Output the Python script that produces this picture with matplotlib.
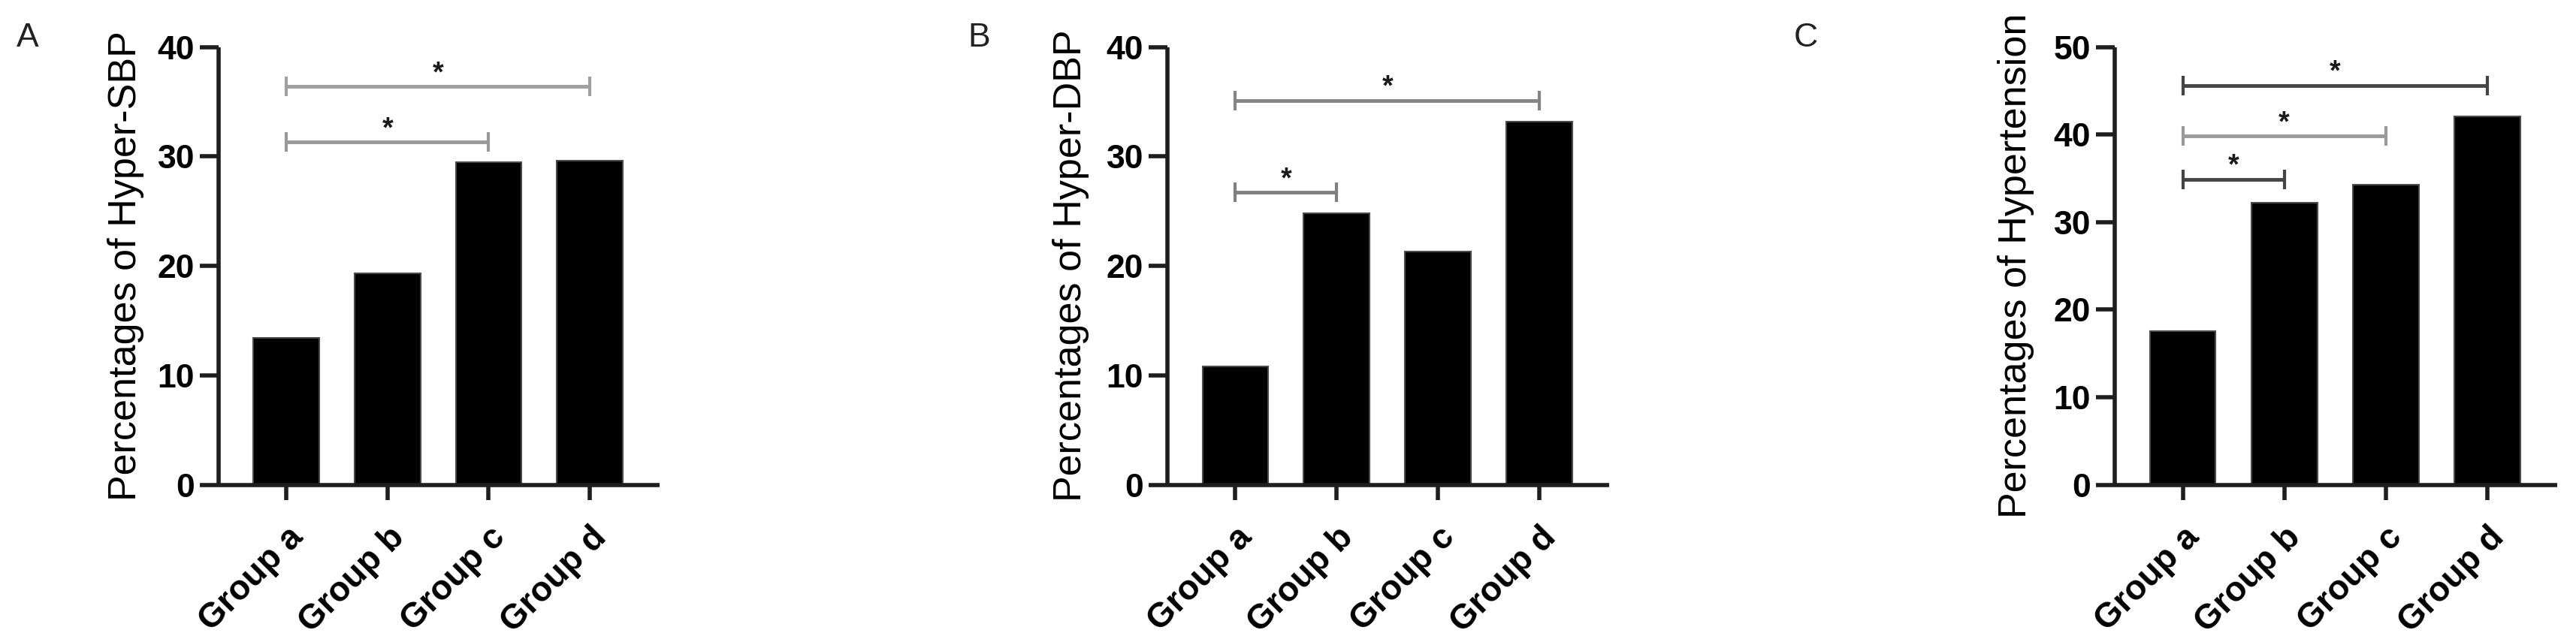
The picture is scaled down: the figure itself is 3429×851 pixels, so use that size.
import matplotlib
matplotlib.use("Agg")
import matplotlib.pyplot as plt
import numpy as np

plt.rcParams['font.family'] = ['Liberation Sans', 'DejaVu Sans']

# ---- data ----
groups = ["Group a", "Group b", "Group c", "Group d"]
sbp_values = [13.4, 19.3, 29.5, 29.6]
dbp_values = [10.8, 24.8, 21.3, 33.2]
htn_values = [17.55, 32.2, 34.3, 42.1]

ylabels = ["Percentages of Hyper-SBP", "Percentages of Hyper-DBP", "Percentages of Hypertension"]
panel_letters = ["A", "B", "C"]
ymaxes = [40, 40, 50]

# significance brackets: (from index, to index, height)
sbp_brackets = [(0, 3, 36.4), (0, 2, 31.3)]
dbp_brackets = [(0, 3, 35.1), (0, 1, 26.7)]
htn_brackets = [(0, 3, 45.6), (0, 2, 39.8), (0, 1, 34.9)]

sbp_bracket_colors = ["#a0a0a0", "#999999"]
dbp_bracket_colors = ["#858585", "#808080"]
htn_bracket_colors = ["#454545", "#9a9a9a", "#454545"]

W, H = 3429, 851
fig = plt.figure(figsize=(W / 100, H / 100), dpi=100)

ax_lefts_px = [291, 1554, 2815]
ax_rights_px = [878, 2142, 3404]
label_right_px = [192, 1450, 2708]
top_px, bottom_px = 62.5, 645.5
letter_x_px = [22, 1288, 2388]

all_values = [sbp_values, dbp_values, htn_values]
all_brackets = [sbp_brackets, dbp_brackets, htn_brackets]
all_colors = [sbp_bracket_colors, dbp_bracket_colors, htn_bracket_colors]

spine_color = "#1e1e1e"
for i in range(3):
    l = ax_lefts_px[i] / W
    wpx = ax_rights_px[i] - ax_lefts_px[i]
    w = wpx / W
    b = 1 - bottom_px / H
    h = (bottom_px - top_px) / H
    ax = fig.add_axes([l, b, w, h])
    x = np.arange(len(groups))
    ax.bar(x, all_values[i], width=0.65, color="black", edgecolor="#4a4a4a",
           linewidth=1.5, zorder=2)
    ax.set_xlim(-0.67, 3.69)
    ax.set_ylim(0, ymaxes[i])
    ax.set_yticks(np.arange(0, ymaxes[i] + 1, 10))
    ax.set_xticks(x)
    ax.set_xticklabels(groups, fontsize=33, fontweight="bold")
    for lab in ax.get_yticklabels():
        lab.set_fontsize(32)
        lab.set_fontweight("bold")
    plt.setp(ax.get_xticklabels(), rotation=45, ha="right", va="top",
             rotation_mode="anchor")
    for s in ["top", "right"]:
        ax.spines[s].set_visible(False)
    for s in ["left", "bottom"]:
        ax.spines[s].set_linewidth(4)
        ax.spines[s].set_color(spine_color)
        ax.spines[s].set_capstyle("butt")
    ax.tick_params(axis="y", length=18, width=4, color=spine_color, pad=5)
    ax.tick_params(axis="x", length=14.5, width=4, color=spine_color, pad=20)
    ax.set_ylabel(ylabels[i], fontsize=37.5)
    ax.yaxis.set_label_coords(-(ax_lefts_px[i] - label_right_px[i]) / wpx, 0.5)

    # brackets
    for (a, bidx, yv), col in zip(all_brackets[i], all_colors[i]):
        ax.plot([x[a], x[bidx]], [yv, yv], color=col, lw=3.5, marker="|",
                ms=19, mew=3, solid_capstyle="butt", zorder=3, clip_on=False)
        ax.annotate("*", xy=((x[a] + x[bidx]) / 2, yv), xytext=(0, 5),
                    textcoords="offset points", ha="center", va="baseline",
                    fontsize=27, fontweight="bold", color="#1a1a1a")

    fig.text(letter_x_px[i] / W, 1 - 62 / H, panel_letters[i], fontsize=32,
             ha="left", va="baseline", color="#222222")

fig.savefig("out.png", dpi=100, facecolor="white")
